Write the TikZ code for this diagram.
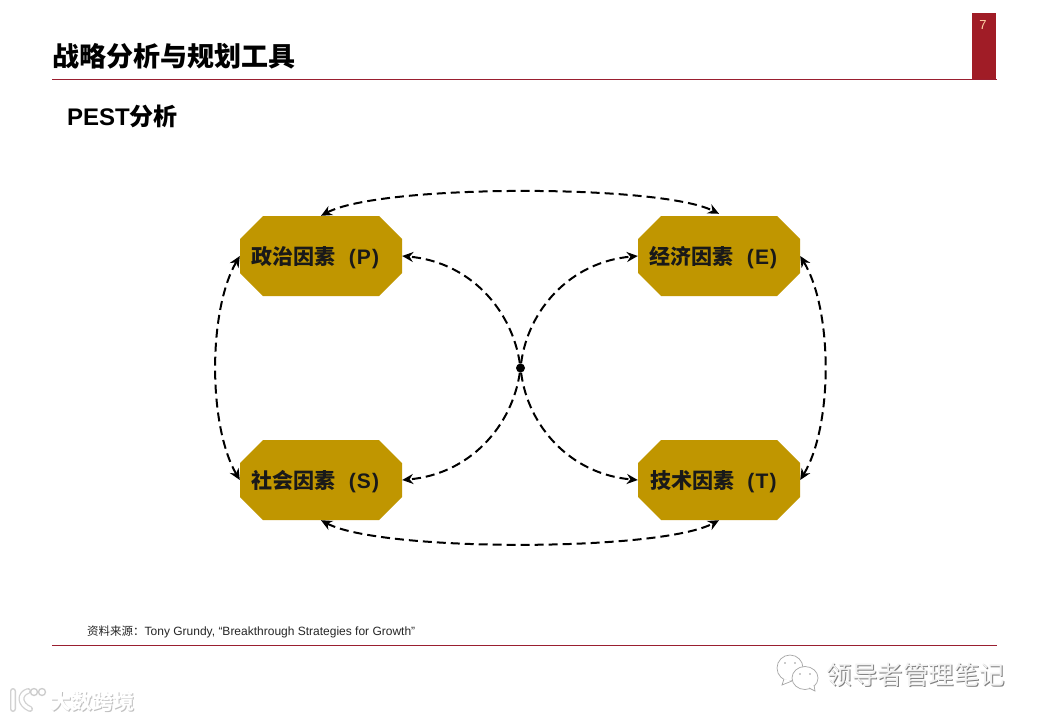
\documentclass[tikz,border=0pt]{standalone}
\usepackage{fontspec}
\setmainfont{Liberation Sans}
\newfontfamily\cjk{Noto Sans CJK SC}
\usetikzlibrary{arrows.meta}
\definecolor{gold}{HTML}{C09600}
\definecolor{brick}{HTML}{A01C26}
\definecolor{rulecol}{HTML}{9A1F30}
\newcommand{\fs}[1]{\fontsize{#1}{#1}\selectfont}
\newcommand{\factorlabel}[2]{{\cjk #1}\hspace{13pt}(\hspace{1.2pt}#2\hspace{1.2pt})\hspace{11pt}\null}
\tikzset{
  x=1pt,y=-1pt,
  factor/.style={rectangle,draw=none,minimum width=162pt,minimum height=80pt,inner sep=0pt,
    text height=18.5pt,text depth=1.5pt,
    font=\fs{21}\bfseries,text=black!90,
    path picture={\fill[gold]
      ([xshift=23pt]path picture bounding box.north west) --
      ([xshift=-23pt]path picture bounding box.north east) --
      ([yshift=-23pt]path picture bounding box.north east) --
      ([yshift=23pt]path picture bounding box.south east) --
      ([xshift=-23pt]path picture bounding box.south east) --
      ([xshift=23pt]path picture bounding box.south west) --
      ([yshift=23pt]path picture bounding box.south west) --
      ([yshift=-23pt]path picture bounding box.north west) -- cycle;}},
  link/.style={line width=2pt,black,dash pattern=on 9pt off 5pt,
    -{Stealth[length=11pt,width=10pt]}},
  twoway/.style={link,{Stealth[length=11pt,width=10pt]}-{Stealth[length=11pt,width=10pt]}},
  plain/.style={inner sep=0pt,anchor=west},
  rulea/.style={fill=rulecol,draw=none},
  mark1/.style={inner sep=0pt,font=\cjk\fs{25.5},text=white},
  bubble/.style={draw=black!35,line width=.7pt,fill=white}
}
\begin{document}
\begin{tikzpicture}
\useasboundingbox (0,0) rectangle (1040,720);
\fill[white] (0,0) rectangle (1040,720);
% header
\node[fill=brick,minimum width=24pt,minimum height=66pt,inner sep=0pt,anchor=north west] (tab) at (972,13) {};
\node[inner sep=0pt,text=orange!35!white,font=\fs{13}] (pg) at (983,25) {7};
\coordinate (ha) at (52,79); \coordinate (hb) at (997,80);
\path[rulea] (ha) rectangle (hb);
\node[plain,font=\cjk\bfseries\fs{27}] (title) at (52,56) {战略分析与规划工具};
\node[plain,font=\bfseries\fs{24}] (sub) at (67,116) {PEST{\cjk 分析}};
% boxes
\node[factor] (p) at (321,256) {\factorlabel{政治因素}{P}};
\node[factor] (e) at (719,256) {\factorlabel{经济因素}{E}};
\node[factor] (s) at (321,480) {\factorlabel{社会因素}{S}};
\node[factor] (t) at (719,480) {\factorlabel{技术因素}{T}};
\node[circle,fill=black,minimum size=9pt,inner sep=0pt] (c) at (520.5,368) {};
% ring
\draw[twoway] (p.north) .. controls (380,184) and (660,184) .. ([yshift=2pt]e.north);
\draw[twoway] (s.south) .. controls (380,552) and (660,552) .. (t.south);
\draw[twoway] (p.west) .. controls (208,310) and (208,426) .. (s.west);
\draw[twoway] (e.east) .. controls (833,310) and (833,426) .. (t.east);
% centre
\draw[link] (c) .. controls (512,310) and (470,262) .. (p.east);
\draw[link] (c) .. controls (528,310) and (570,262) .. (e.west);
\draw[link] (c) .. controls (512,426) and (470,474) .. (s.east);
\draw[link] (c) .. controls (528,426) and (570,474) .. (t.west);
% footer
\node[plain,font=\fs{12},text=black!85] (src) at (87,632) {{\cjk\fs{11.5}资料来源：}Tony Grundy, “Breakthrough Strategies for Growth”};
\coordinate (fa) at (52,645); \coordinate (fb) at (997,646);
\path[rulea] (fa) rectangle (fb);
% WeChat mark
\draw[bubble] (790,668) ellipse (13pt and 13pt);
\draw[bubble] (784,679) -- (782,685) -- (792,681);
\draw[bubble] (805,678) ellipse (13pt and 11.5pt);
\draw[bubble] (809,688) -- (815,691) -- (814,685);
\fill[black!40] (785,663) circle (.9pt) (795,663) circle (.9pt) (800,674) circle (.9pt) (810,674) circle (.9pt);
\node[mark1,text=black!50] (wm0) at (917,675.8) {领导者管理笔记};
\node[mark1,text=white!95!black] (wm) at (916,675) {领导者管理笔记};
% logo mark
\draw[black!18,line width=6pt,line cap=round,line join=round] (13,691) -- (13,709) (28,691) .. controls (19,694) and (19,704) .. (30,709);
\draw[white,line width=3.4pt,line cap=round,line join=round] (13,691) -- (13,709) (28,691) .. controls (19,694) and (19,704) .. (30,709);
\draw[black!20,line width=1.3pt] (34,692) circle (3.5pt) (42,692) circle (3.5pt);
\node[inner sep=0pt,font=\cjk\bfseries\fs{21},text=black!25] (dm0) at (93,702) {大数跨境};
\node[inner sep=0pt,font=\cjk\bfseries\fs{21},text=white] (dm) at (92.5,701) {大数跨境};
\end{tikzpicture}
\end{document}
